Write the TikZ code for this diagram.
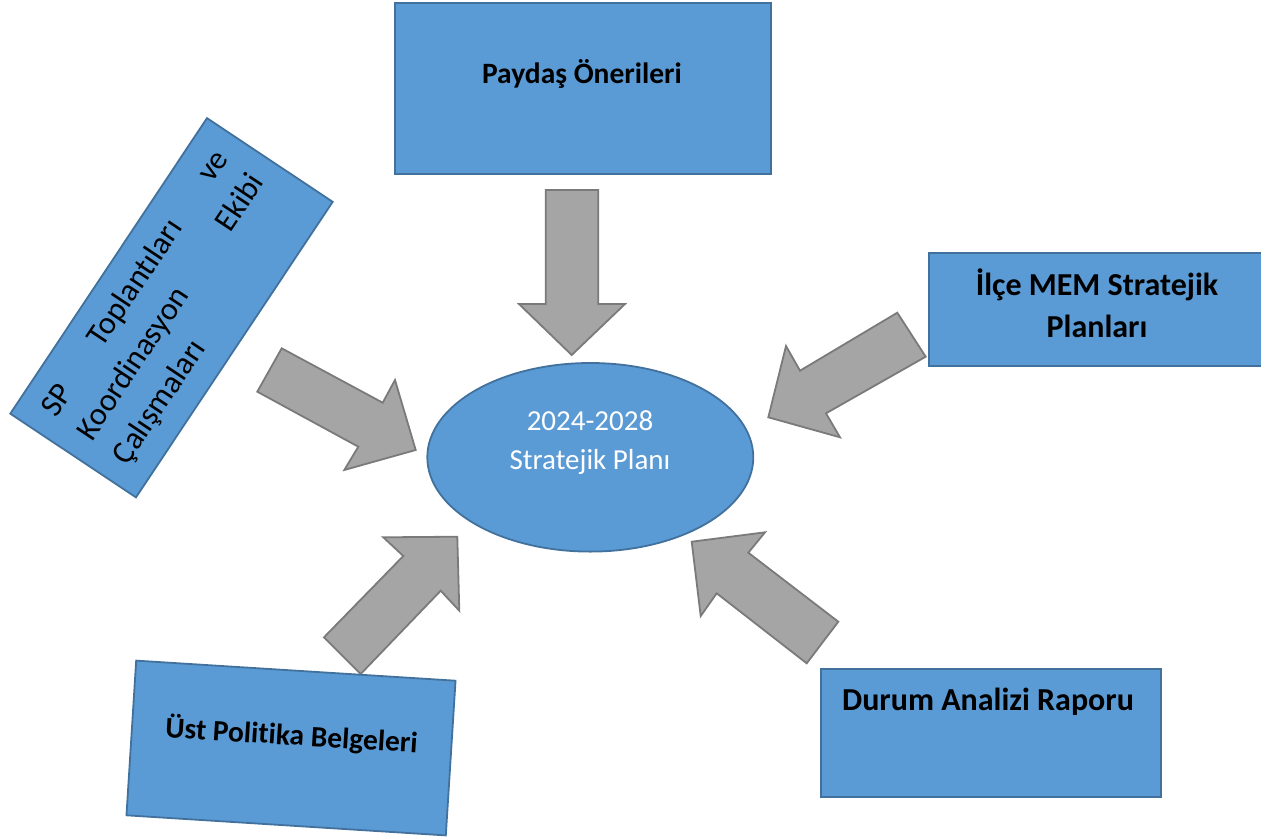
\documentclass[tikz,border=0pt]{standalone}
\usepackage{fontspec}
\setmainfont{Carlito}[RawFeature={-liga}]
\usetikzlibrary{shapes.geometric}
\definecolor{boxblue}{HTML}{5B9BD5}
\definecolor{boxedge}{HTML}{41719C}
\definecolor{arrowgray}{HTML}{A5A5A5}
\definecolor{arrowedge}{HTML}{7A7A7A}
\begin{document}
\begin{tikzpicture}[x=1pt,y=-1pt,
  box/.style={draw=boxedge, fill=boxblue, line width=1.8pt, inner sep=0pt},
  blockarrow/.style={draw=arrowedge, fill=arrowgray, line width=1.8pt, line join=miter},
  boldbig/.style={font=\fontsize{32}{41.7}\selectfont\bfseries, inner sep=0pt, text=black},
  boldmid/.style={font=\fontsize{29.5}{36}\selectfont\bfseries, inner sep=0pt, text=black},
  plaintxt/.style={font=\fontsize{32}{43}\selectfont, text=black},
  whitetxt/.style={font=\fontsize{29}{39}\selectfont, text=white, inner sep=0pt, align=center},
]
\useasboundingbox (0,0) rectangle (1261,838);

% block arrows
\draw[blockarrow] (545.7,190) -- (598.3,190) -- (598.3,304) -- (625,304) -- (571.7,355) -- (519,304) -- (545.7,304) -- cycle;
\draw[blockarrow] (281.7,348.3) -- (382.7,402.7) -- (395,380) -- (415.7,450) -- (344.3,470) -- (358.3,446.7) -- (257.3,391.7) -- cycle;
\draw[blockarrow] (897.3,312.7) -- (925.7,356.7) -- (826,413.3) -- (840,437.3) -- (768.3,417.3) -- (786,346) -- (800,370.7) -- cycle;
\draw[blockarrow] (324,637.3) -- (403.3,556) -- (383.3,537.3) -- (457.3,536.7) -- (459.3,610.7) -- (440.7,590.7) -- (360.7,674) -- cycle;
\draw[blockarrow] (838.3,621.7) -- (748.3,552.7) -- (765,532.3) -- (691.7,541.7) -- (700.7,616) -- (716.7,593.3) -- (806.7,663.3) -- cycle;

% centre ellipse
\node[ellipse, box, minimum width=326, minimum height=188.6] (plan) at (590.3,457.3) {};
\node[whitetxt] (plantxt) at (590,443) {2024-2028\\Stratejik Planı};

% Paydaş Önerileri
\node[box, minimum width=375.7, minimum height=171.3] (paydas) at (582.8,88.3) {};
\node[boldmid, anchor=base] (paydastxt) at (582,83) {Paydaş Önerileri};

% İlçe MEM Stratejik Planları
\node[box, minimum width=336, minimum height=112.7] (ilce) at (1097,309.7) {};
\node[boldbig, align=center] (ilcetxt) at (1097,303) {İlçe MEM Stratejik\\Planları};

% Durum Analizi Raporu
\node[box, minimum width=340, minimum height=128] (durum) at (991,733) {};
\node[boldbig, anchor=base] (durumtxt) at (988,710) {Durum Analizi Raporu};

% Üst Politika Belgeleri
\node[box, rotate=-3.6, minimum width=320, minimum height=155] (ust) at (291,748) {};
\node[boldmid, rotate=-3.6, anchor=base] (usttxt) at (291,745) {Üst Politika Belgeleri};

% SP Toplantıları ve Koordinasyon Ekibi Çalışmaları
\node[box, plaintxt, rotate=56.35, minimum width=355, minimum height=151, text width=312, align=left] (sp) at (171.5,307.75)
  {SP\hfill Toplantıları\hfill ve\\Koordinasyon\hfill Ekibi\\Çalışmaları};
\end{tikzpicture}
\end{document}
